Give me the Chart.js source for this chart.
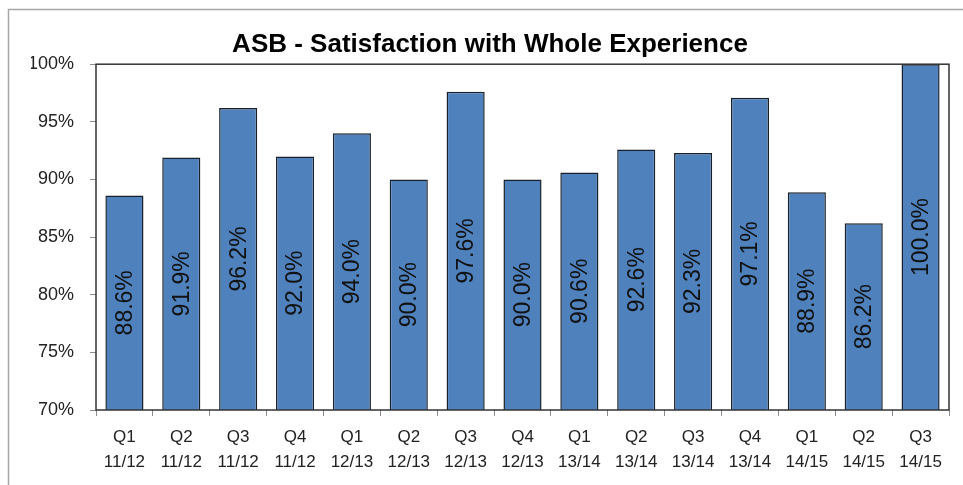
<!DOCTYPE html>
<html>
<head>
<meta charset="utf-8">
<script src="https://cdn.jsdelivr.net/npm/chart.js@4.4.1/dist/chart.umd.min.js"></script>
<style>
  html, body { margin: 0; padding: 0; background: #fff; }
  #wrap { position: relative; width: 963px; height: 485px; }
</style>
</head>
<body>
<div id="wrap"><canvas id="asbChart" width="963" height="485"></canvas></div>
<script>
// quarterly satisfaction scores
const quarters = ['Q1', 'Q2', 'Q3', 'Q4', 'Q1', 'Q2', 'Q3', 'Q4', 'Q1', 'Q2', 'Q3', 'Q4', 'Q1', 'Q2', 'Q3'];
const years = ['11/12', '11/12', '11/12', '11/12', '12/13', '12/13', '12/13', '12/13',
               '13/14', '13/14', '13/14', '13/14', '14/15', '14/15', '14/15'];
const satisfaction = [88.6, 91.9, 96.2, 92.0, 94.0, 90.0, 97.6, 90.0, 90.6, 92.6, 92.3, 97.1, 88.9, 86.2, 100.0];
const yTicks = [70, 75, 80, 85, 90, 95, 100];

const labels = quarters.map((q, i) => [q, years[i]]);
const FONT = "'Liberation Sans', Arial, sans-serif";

// grey outer frame + dark box round the plot area
const framePlugin = {
  id: 'frameBox',
  beforeDraw(chart) {
    const ctx = chart.ctx;
    ctx.save();
    ctx.strokeStyle = '#a6a6a6';
    ctx.lineWidth = 1.5;
    ctx.strokeRect(8.5, 9.5, 1100, 1100);
    ctx.restore();
  },
  afterDraw(chart) {
    const a = chart.chartArea;
    const ctx = chart.ctx;
    ctx.save();
    ctx.strokeStyle = '#333333';
    ctx.lineWidth = 1.5;
    ctx.strokeRect(a.left, a.top, a.right - a.left, a.bottom - a.top);
    ctx.restore();

    // value labels written upright inside each bar
    const xs = chart.scales.x;
    const ys = chart.scales.y;
    const base = ys.getPixelForValue(ys.min);
    ctx.save();
    ctx.font = 'normal 23px Arial, sans-serif';
    ctx.fillStyle = '#111111';
    ctx.textAlign = 'center';
    ctx.textBaseline = 'middle';
    for (let i = 0; i < satisfaction.length; i++) {
      const x = xs.getPixelForValue(i);
      const top = ys.getPixelForValue(satisfaction[i]);
      ctx.save();
      ctx.translate(x, (top + base) / 2);
      ctx.rotate(-Math.PI / 2);
      ctx.fillText(satisfaction[i].toFixed(1) + '%', 0, 1);
      ctx.restore();
    }
    ctx.restore();
  }
};

new Chart('asbChart', {
  type: 'bar',
  data: {
    labels: labels,
    datasets: [{
      data: satisfaction,
      backgroundColor: '#4f81bd',
      borderColor: '#18202c',
      borderWidth: 1.5,
      borderSkipped: false,
      barPercentage: 0.67,
      categoryPercentage: 1.0
    }]
  },
  options: {
    responsive: false,
    animation: false,
    layout: { padding: { left: 31, right: 14, top: 0, bottom: 0 } },
    plugins: {
      legend: { display: false },
      tooltip: { enabled: false },
      title: {
        display: true,
        text: 'ASB - Satisfaction with Whole Experience',
        color: '#000',
        font: { family: FONT, size: 26, weight: 'bold', lineHeight: 1.2 },
        padding: { top: 29, bottom: 4 }
      }
    },
    scales: {
      x: {
        grid: { display: true, drawOnChartArea: false, offset: true, tickLength: 6, color: '#8c8c8c' },
        border: { display: false },
        ticks: {
          color: '#222',
          font: { family: FONT, size: 17, lineHeight: 1.45 },
          padding: 9,
          maxRotation: 0,
          autoSkip: false
        },
        afterFit(scale) { scale.height = 75; }
      },
      y: {
        min: 70,
        max: 100,
        afterBuildTicks(scale) { scale.ticks = yTicks.map(v => ({ value: v })); },
        grid: { display: true, drawOnChartArea: false, tickLength: 6, color: '#8c8c8c' },
        border: { display: false },
        ticks: {
          color: '#222',
          font: { family: FONT, size: 18 },
          padding: 16,
          callback: v => v + '%'
        },
        afterFit(scale) { scale.width = 65; }
      }
    }
  },
  plugins: [framePlugin]
});
</script>
</body>
</html>
